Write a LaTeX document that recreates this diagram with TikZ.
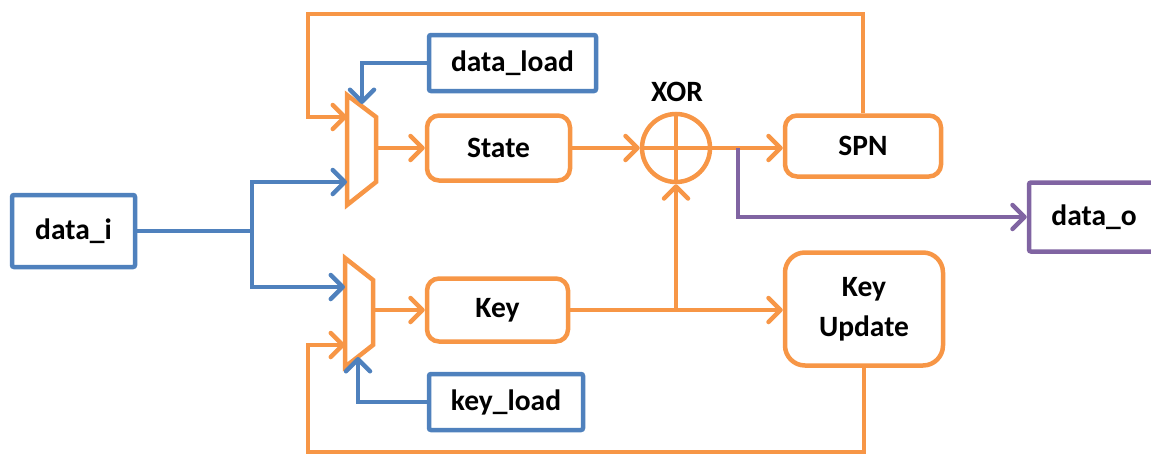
\documentclass[tikz,border=0pt]{standalone}
\usepackage{fontspec}
\setmainfont{Carlito}
\usetikzlibrary{arrows.meta,calc}
\definecolor{org}{RGB}{247,150,70}
\definecolor{blu}{RGB}{79,129,189}
\definecolor{pur}{RGB}{128,100,162}
\begin{document}
\begin{tikzpicture}[x=1pt,y=-1pt,
  every node/.style={font=\fontsize{29.5}{40}\selectfont\bfseries, line width=4.5pt, inner sep=0pt},
  obox/.style={draw=org, rounded corners=12pt, fill=white},
  bbox/.style={draw=blu, rounded corners=2pt, fill=white},
  pbox/.style={draw=pur, rounded corners=2pt, fill=white},
  ow/.style={draw=org, line width=4.5pt},
  bw/.style={draw=blu, line width=4.5pt},
  pw/.style={draw=pur, line width=4.5pt},
  arr/.style={-{Straight Barb[length=12pt,width=24pt,line width=4.5pt,round]}},
]
\useasboundingbox (0,0) rectangle (1151,455);
\clip (0,0) rectangle (1151,455);

% boxes
\node[bbox, minimum width=123pt, minimum height=72pt] (di) at (73.5,231) {data\_i};
\node[bbox, minimum width=167pt, minimum height=56pt] (dl) at (512.5,63) {data\_load};
\node[bbox, minimum width=154pt, minimum height=56pt] (kl) at (506,402) {key\_load};
\node[pbox, minimum width=130pt, minimum height=69pt] (do) at (1094,217) {data\_o};
\node[obox, minimum width=143pt, minimum height=65pt] (state) at (498.5,148) {State};
\node[obox, minimum width=156pt, minimum height=61pt] (spn) at (863,146) {SPN};
\node[obox, minimum width=141pt, minimum height=63pt] (key) at (497.5,310) {Key};
\node[obox, rounded corners=20pt, minimum width=158pt, minimum height=113pt, align=center] (ku) at (864,309) {Key\\Update};
\node[circle, draw=org, minimum size=68pt] (xor) at (676,148) {};
\draw[ow] (xor.north) -- (xor.south) (xor.west) -- (xor.east);
\node (xorlbl) at (677,92) {XOR};

% multiplexers
\draw[ow, line join=miter] (347,95) -- (376,117) -- (376,182) -- (347,205) -- cycle;
\draw[ow, line join=miter] (345,258) -- (373,280) -- (373,345) -- (345,367) -- cycle;
\coordinate (ma-in1) at (347,117);
\coordinate (ma-in2) at (347,182);
\coordinate (ma-sel) at (362,104);
\coordinate (ma-out) at (376,148);
\coordinate (mb-in1) at (345,287);
\coordinate (mb-in2) at (345,345);
\coordinate (mb-sel) at (358,357);
\coordinate (mb-out) at (373,310);

% blue inputs
\coordinate (split) at (252,231);
\draw[bw] (di.east) -- (split);
\draw[bw,arr] (split) |- (ma-in2);
\draw[bw,arr] (split) |- (mb-in1);
\draw[bw,arr] (dl.west) -| (ma-sel);
\draw[bw,arr] (kl.west) -| (mb-sel);

% feedback loops
\coordinate (tl) at (308,14);
\coordinate (bl) at (308,452);
\draw[ow,arr] (spn.north) |- (tl) |- (ma-in1);
\draw[ow,arr] (ku.south) |- (bl) |- (mb-in2);

% data path
\draw[ow,arr] (ma-out) -- (ma-out -| state.west);
\draw[ow,arr] (state.east) -- (xor.west);
\draw[ow,arr] (xor.east) -- (xor.east -| spn.west);
\draw[ow,arr] (mb-out) -- (mb-out -| key.west);
\draw[ow,arr] (key.east) -- (key.east -| ku.west);
\coordinate (br) at (key.east -| xor.south);
\draw[ow,arr] (br) -- (xor.south);

% output
\coordinate (tap) at (738,148);
\draw[pw,arr] (tap) |- (do.west);
\end{tikzpicture}
\end{document}
